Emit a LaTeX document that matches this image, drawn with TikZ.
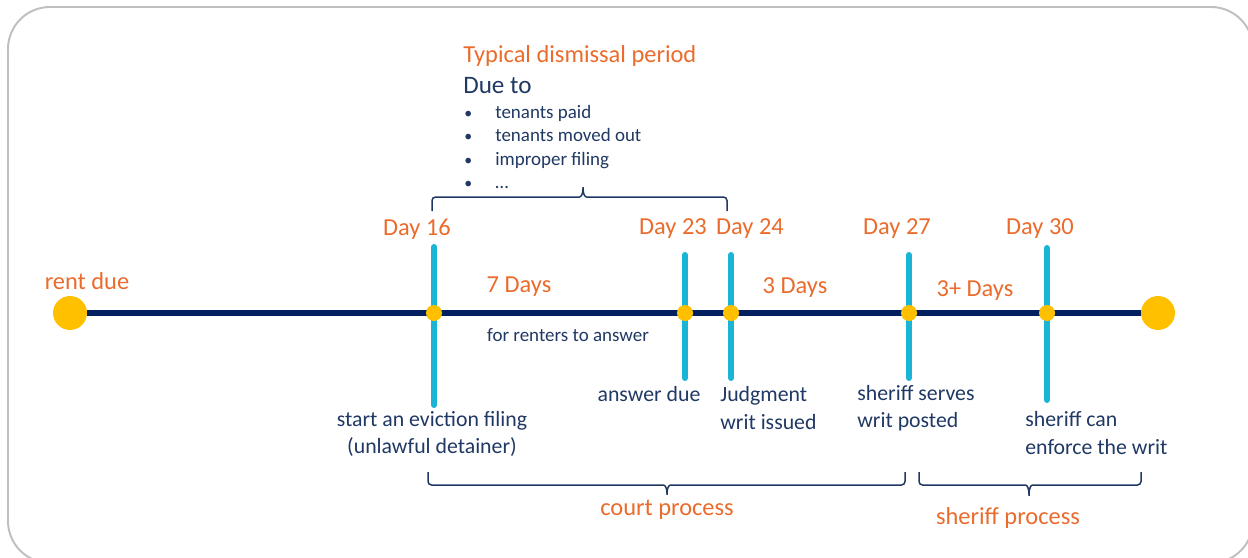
\documentclass[tikz,border=0pt]{standalone}
\usepackage{fontspec}
\setmainfont{Carlito}
\definecolor{accent}{HTML}{EA6B2C}
\definecolor{ink}{HTML}{203864}
\definecolor{rail}{HTML}{002060}
\definecolor{tickc}{HTML}{1AB4D7}
\definecolor{dotc}{HTML}{FFC000}
\definecolor{framec}{HTML}{BFBFBF}
\begin{document}
\begin{tikzpicture}[x=0.02cm,y=-0.02cm,
  bigdot/.style={circle,fill=dotc,inner sep=0,minimum size=0.68cm},
  smalldot/.style={circle,fill=dotc,inner sep=0,minimum size=0.32cm},
  railline/.style={draw=rail,line width=3.9pt},
  tickline/.style={draw=tickc,line width=3.4pt,line cap=round},
  lbl/.style={text=accent,font=\fontsize{13.9}{16}\selectfont,inner sep=0},
  note/.style={text=ink,font=\fontsize{12.4}{15.4}\selectfont,inner sep=0},
  smallnote/.style={text=ink,font=\fontsize{10.8}{13.3}\selectfont,inner sep=0},
  bracket/.style={draw=ink,line width=0.85pt,rounded corners=2pt}]
\useasboundingbox (0,0) rectangle (1248,558);
\clip (0,0) rectangle (1248,558);
% outer frame
\draw[framec,line width=1.1pt,rounded corners=0.84cm] (8,7) rectangle (1253,563);

% timeline
\node[bigdot] (start) at (70,313) {};
\node[bigdot] (finish) at (1158,313) {};
\draw[railline] (start) -- (finish);

% day markers
\coordinate (m16a) at (434,247); \coordinate (m16b) at (434,405);
\coordinate (m23a) at (685,255); \coordinate (m23b) at (685,378);
\coordinate (m24a) at (731,255); \coordinate (m24b) at (731,378);
\coordinate (m27a) at (909,255); \coordinate (m27b) at (909,378);
\coordinate (m30a) at (1047,248); \coordinate (m30b) at (1047,400);
\foreach \m in {16,23,24,27,30}{\draw[tickline] (m\m a) -- (m\m b);}
\node[smalldot] (k16) at (434,313) {};
\node[smalldot] (k23) at (685,313) {};
\node[smalldot] (k24) at (731,313) {};
\node[smalldot] (k27) at (909,313) {};
\node[smalldot] (k30) at (1047,313) {};

% labels above the line
\node[lbl] (rent) at (87,281) {rent due};
\node[lbl] (d16) at (417,229) {Day 16};
\node[lbl] (d23) at (673,229) {Day 23};
\node[lbl] (d24) at (750,229) {Day 24};
\node[lbl] (d27) at (897,229) {Day 27};
\node[lbl] (d30) at (1040,229) {Day 30};
\node[lbl] (p7) at (519,287) {7 Days};
\node[lbl] (p3) at (795,288) {3 Days};
\node[lbl] (p3p) at (975,291) {3+ Days};

% labels below the line
\node[smallnote] (renters) at (568,335) {for renters to answer};
\node[note] (ans) at (649,394) {answer due};
\node[note,align=left,anchor=west] (judg) at (720,408) {Judgment\\writ issued};
\node[note,align=left,anchor=west] (serve) at (857,408) {sheriff serves\\writ posted};
\node[note,align=left,anchor=west] (enf) at (1025,433) {sheriff can\\enforce the writ};
\node[note,align=center] (filing) at (432,434) {start an eviction filing\\(unlawful detainer)};

% dismissal note
\node[lbl,anchor=west] (dismiss) at (463,56) {Typical dismissal period};
\node[lbl,text=ink,anchor=west,font=\fontsize{14.3}{16}\selectfont] (due) at (463,86) {Due to};
\node[smallnote,anchor=west,align=left] (reasons) at (464,147)
  {\makebox[0.62cm][l]{\small•}tenants paid\\
   \makebox[0.62cm][l]{\small•}tenants moved out\\
   \makebox[0.62cm][l]{\small•}improper filing\\
   \makebox[0.62cm][l]{\small•}…};

% brackets
\draw[bracket] (432,211) -- (432,197) -- (576,197)
  .. controls (581,197) and (583,194) .. (583,185)
  .. controls (583,194) and (585,197) .. (590,197) -- (727,197) -- (727,211);
\draw[bracket] (428,472) -- (428,485) -- (660,485)
  .. controls (665,485) and (667,488) .. (667,497)
  .. controls (667,488) and (669,485) .. (674,485) -- (905,485) -- (905,472);
\draw[bracket] (919,472) -- (919,485) -- (1022,485)
  .. controls (1027,485) and (1029,488) .. (1029,498)
  .. controls (1029,488) and (1031,485) .. (1036,485) -- (1141,485) -- (1141,472);
\node[lbl] (court) at (667,510) {court process};
\node[lbl] (sheriff) at (1008,518) {sheriff process};
\end{tikzpicture}
\end{document}
